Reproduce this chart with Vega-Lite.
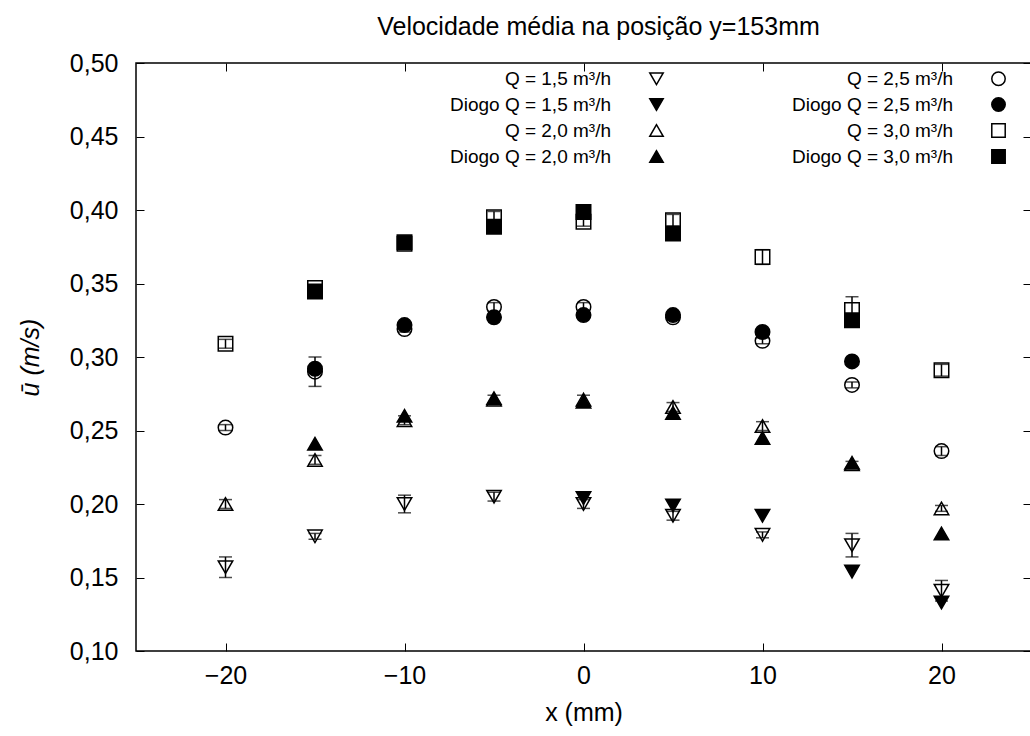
{
  "$schema": "https://vega.github.io/schema/vega-lite/v6.json",
  "width": 895,
  "height": 588,
  "autosize": "none",
  "padding": {"left": 136, "top": 63, "right": 0, "bottom": 85},
  "background": "white",
  "title": {"text": "Velocidade média na posição y=153mm", "font": "Liberation Sans", "fontSize": 25, "fontWeight": "normal", "color": "black", "offset": 11, "anchor": "middle", "dx": 15},
  "config": {
    "view": {"stroke": "black", "strokeWidth": 1.5},
    "axis": {"grid": false, "domain": false, "tickColor": "black", "tickWidth": 1, "labelColor": "black", "labelFont": "Liberation Sans", "labelFontSize": 25, "titleFont": "Liberation Sans", "titleFontSize": 25, "titleFontWeight": "normal", "titleColor": "black"},
    "legend": {"title": null, "orient": "none", "legendX": 511, "legendY": 6, "columns": 2, "columnPadding": 124, "rowPadding": 5,
               "labelFont": "Liberation Sans", "labelFontSize": 19, "labelColor": "black", "labelAlign": "right", "labelOffset": -55, "labelLimit": 400,
               "symbolSize": 180, "symbolStrokeColor": "black", "symbolStrokeWidth": 1.5}
  },
  "data": {"values": [
    {"x": -20, "u": 0.157, "err": 0.007, "s": "Q = 1,5 m³/h"},
    {"x": -15, "u": 0.178, "err": 0.002, "s": "Q = 1,5 m³/h"},
    {"x": -10, "u": 0.200, "err": 0.006, "s": "Q = 1,5 m³/h"},
    {"x": -5, "u": 0.205, "err": 0.003, "s": "Q = 1,5 m³/h"},
    {"x": 0, "u": 0.200, "err": 0.003, "s": "Q = 1,5 m³/h"},
    {"x": 5, "u": 0.192, "err": 0.003, "s": "Q = 1,5 m³/h"},
    {"x": 10, "u": 0.179, "err": 0.002, "s": "Q = 1,5 m³/h"},
    {"x": 15, "u": 0.172, "err": 0.008, "s": "Q = 1,5 m³/h"},
    {"x": 20, "u": 0.141, "err": 0.007, "s": "Q = 1,5 m³/h"},
    {"x": 0, "u": 0.204, "s": "Diogo Q = 1,5 m³/h"},
    {"x": 5, "u": 0.199, "s": "Diogo Q = 1,5 m³/h"},
    {"x": 10, "u": 0.192, "s": "Diogo Q = 1,5 m³/h"},
    {"x": 15, "u": 0.154, "s": "Diogo Q = 1,5 m³/h"},
    {"x": 20, "u": 0.133, "s": "Diogo Q = 1,5 m³/h"},
    {"x": -20, "u": 0.200, "err": 0.003, "s": "Q = 2,0 m³/h"},
    {"x": -15, "u": 0.230, "err": 0.003, "s": "Q = 2,0 m³/h"},
    {"x": -10, "u": 0.257, "err": 0.003, "s": "Q = 2,0 m³/h"},
    {"x": -5, "u": 0.271, "err": 0.003, "s": "Q = 2,0 m³/h"},
    {"x": 0, "u": 0.271, "err": 0.003, "s": "Q = 2,0 m³/h"},
    {"x": 5, "u": 0.266, "err": 0.003, "s": "Q = 2,0 m³/h"},
    {"x": 10, "u": 0.253, "err": 0.003, "s": "Q = 2,0 m³/h"},
    {"x": 15, "u": 0.227, "err": 0.002, "s": "Q = 2,0 m³/h"},
    {"x": 20, "u": 0.197, "err": 0.002, "s": "Q = 2,0 m³/h"},
    {"x": -15, "u": 0.241, "s": "Diogo Q = 2,0 m³/h"},
    {"x": -10, "u": 0.260, "s": "Diogo Q = 2,0 m³/h"},
    {"x": -5, "u": 0.272, "s": "Diogo Q = 2,0 m³/h"},
    {"x": 0, "u": 0.2695, "s": "Diogo Q = 2,0 m³/h"},
    {"x": 5, "u": 0.262, "s": "Diogo Q = 2,0 m³/h"},
    {"x": 10, "u": 0.245, "s": "Diogo Q = 2,0 m³/h"},
    {"x": 15, "u": 0.228, "s": "Diogo Q = 2,0 m³/h"},
    {"x": 20, "u": 0.180, "s": "Diogo Q = 2,0 m³/h"},
    {"x": -20, "u": 0.252, "err": 0.002, "s": "Q = 2,5 m³/h"},
    {"x": -15, "u": 0.290, "err": 0.010, "s": "Q = 2,5 m³/h"},
    {"x": -10, "u": 0.319, "err": 0.002, "s": "Q = 2,5 m³/h"},
    {"x": -5, "u": 0.334, "err": 0.003, "s": "Q = 2,5 m³/h"},
    {"x": 0, "u": 0.334, "err": 0.003, "s": "Q = 2,5 m³/h"},
    {"x": 5, "u": 0.327, "err": 0.002, "s": "Q = 2,5 m³/h"},
    {"x": 10, "u": 0.311, "err": 0.002, "s": "Q = 2,5 m³/h"},
    {"x": 15, "u": 0.281, "err": 0.002, "s": "Q = 2,5 m³/h"},
    {"x": 20, "u": 0.236, "err": 0.003, "s": "Q = 2,5 m³/h"},
    {"x": -15, "u": 0.292, "s": "Diogo Q = 2,5 m³/h"},
    {"x": -10, "u": 0.3217, "s": "Diogo Q = 2,5 m³/h"},
    {"x": -5, "u": 0.327, "s": "Diogo Q = 2,5 m³/h"},
    {"x": 0, "u": 0.3285, "s": "Diogo Q = 2,5 m³/h"},
    {"x": 5, "u": 0.3285, "s": "Diogo Q = 2,5 m³/h"},
    {"x": 10, "u": 0.317, "s": "Diogo Q = 2,5 m³/h"},
    {"x": 15, "u": 0.297, "s": "Diogo Q = 2,5 m³/h"},
    {"x": -20, "u": 0.309, "err": 0.003, "s": "Q = 3,0 m³/h"},
    {"x": -15, "u": 0.347, "err": 0.002, "s": "Q = 3,0 m³/h"},
    {"x": -10, "u": 0.377, "err": 0.002, "s": "Q = 3,0 m³/h"},
    {"x": -5, "u": 0.395, "err": 0.004, "s": "Q = 3,0 m³/h"},
    {"x": 0, "u": 0.392, "err": 0.003, "s": "Q = 3,0 m³/h"},
    {"x": 5, "u": 0.393, "err": 0.004, "s": "Q = 3,0 m³/h"},
    {"x": 10, "u": 0.368, "err": 0.005, "s": "Q = 3,0 m³/h"},
    {"x": 15, "u": 0.332, "err": 0.009, "s": "Q = 3,0 m³/h"},
    {"x": 20, "u": 0.291, "err": 0.004, "s": "Q = 3,0 m³/h"},
    {"x": -15, "u": 0.3445, "s": "Diogo Q = 3,0 m³/h"},
    {"x": -10, "u": 0.378, "s": "Diogo Q = 3,0 m³/h"},
    {"x": -5, "u": 0.3886, "s": "Diogo Q = 3,0 m³/h"},
    {"x": 0, "u": 0.3987, "s": "Diogo Q = 3,0 m³/h"},
    {"x": 5, "u": 0.384, "s": "Diogo Q = 3,0 m³/h"},
    {"x": 15, "u": 0.325, "s": "Diogo Q = 3,0 m³/h"}
  ]},
  "layer": [
    {
      "transform": [{"filter": "isValid(datum.err)"}],
      "mark": {"type": "errorbar", "ticks": {"size": 13, "color": "black", "thickness": 1.5}, "rule": {"color": "black", "strokeWidth": 1.5}},
      "encoding": {
        "x": {"field": "x", "type": "quantitative", "scale": {"domain": [-25, 25], "nice": false},
              "axis": {"orient": "bottom", "values": [-20, -10, 0, 10, 20], "tickSize": -8, "labelPadding": 20, "title": "x (mm)", "titlePadding": 12}},
        "y": {"field": "u", "type": "quantitative", "scale": {"domain": [0.1, 0.5], "nice": false, "zero": false},
              "axis": {"orient": "left", "values": [0.1, 0.15, 0.2, 0.25, 0.3, 0.35, 0.4, 0.45, 0.5], "tickSize": -8, "labelPadding": 26,
                       "labelExpr": "replace(format(datum.value, '.2f'), '.', ',')", "title": "ū (m/s)", "titleFontStyle": "italic", "titlePadding": 26}},
        "yError": {"field": "err"}
      }
    },
    {
      "mark": {"type": "point", "filled": true, "size": 210, "strokeWidth": 1.5, "opacity": 1},
      "encoding": {
        "x": {"field": "x", "type": "quantitative", "axis": null},
        "y": {"field": "u", "type": "quantitative", "axis": null},
        "shape": {"field": "s", "type": "nominal",
          "scale": {"domain": ["Q = 1,5 m³/h", "Diogo Q = 1,5 m³/h", "Q = 2,0 m³/h", "Diogo Q = 2,0 m³/h", "Q = 2,5 m³/h", "Diogo Q = 2,5 m³/h", "Q = 3,0 m³/h", "Diogo Q = 3,0 m³/h"],
                    "range": ["triangle-down", "triangle-down", "triangle-up", "triangle-up", "circle", "circle", "square", "square"]}},
        "fill": {"field": "s", "type": "nominal",
          "scale": {"domain": ["Q = 1,5 m³/h", "Diogo Q = 1,5 m³/h", "Q = 2,0 m³/h", "Diogo Q = 2,0 m³/h", "Q = 2,5 m³/h", "Diogo Q = 2,5 m³/h", "Q = 3,0 m³/h", "Diogo Q = 3,0 m³/h"],
                    "range": ["transparent", "black", "transparent", "black", "transparent", "black", "transparent", "black"]}},
        "stroke": {"field": "s", "type": "nominal",
          "scale": {"domain": ["Q = 1,5 m³/h", "Diogo Q = 1,5 m³/h", "Q = 2,0 m³/h", "Diogo Q = 2,0 m³/h", "Q = 2,5 m³/h", "Diogo Q = 2,5 m³/h", "Q = 3,0 m³/h", "Diogo Q = 3,0 m³/h"],
                    "range": ["black", "black", "black", "black", "black", "black", "black", "black"]}}
      }
    },
    {
      "mark": {"type": "point", "opacity": 0},
      "encoding": {
        "x": {"field": "x", "type": "quantitative", "axis": {"orient": "top", "values": [-20, -10, 0, 10, 20], "tickSize": -8, "labels": false, "title": null}},
        "y": {"field": "u", "type": "quantitative", "axis": {"orient": "right", "values": [0.1, 0.15, 0.2, 0.25, 0.3, 0.35, 0.4, 0.45, 0.5], "tickSize": -8, "labels": false, "title": null}}
      }
    }
  ],
  "resolve": {"axis": {"x": "independent", "y": "independent"}}
}
